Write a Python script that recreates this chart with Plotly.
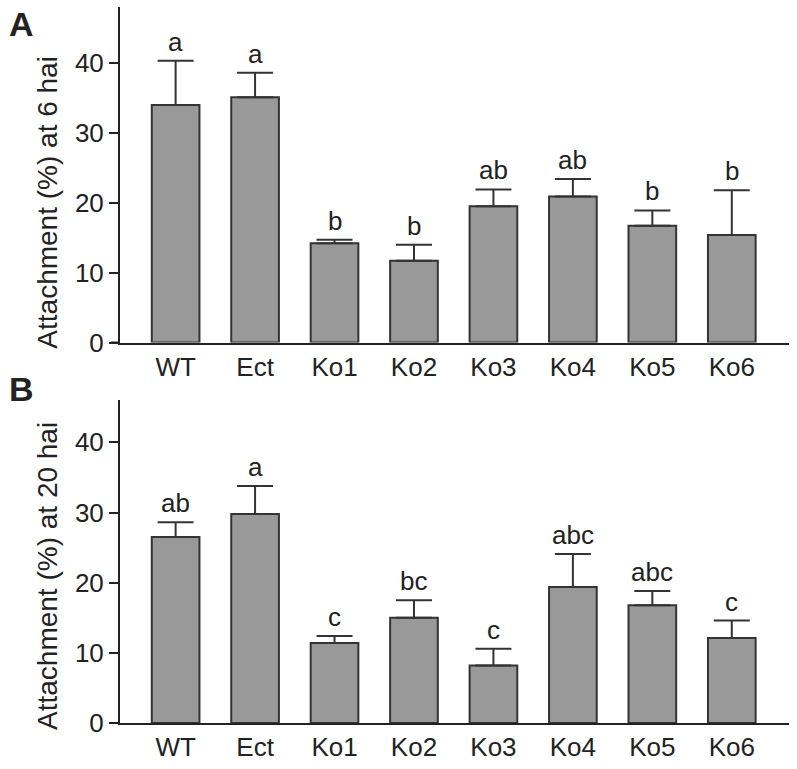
import plotly.graph_objects as go

categories = ["WT", "Ect", "Ko1", "Ko2", "Ko3", "Ko4", "Ko5", "Ko6"]

# Panel A: attachment at 6 hai
mean_6 = [34.0, 35.1, 14.2, 11.7, 19.5, 20.9, 16.7, 15.4]
err_6 = [6.3, 3.5, 0.5, 2.3, 2.4, 2.5, 2.2, 6.4]
letters_6 = ["a", "a", "b", "b", "ab", "ab", "b", "b"]

# Panel B: attachment at 20 hai
mean_20 = [26.5, 29.8, 11.4, 15.0, 8.2, 19.4, 16.8, 12.1]
err_20 = [2.1, 4.0, 1.0, 2.5, 2.4, 4.7, 2.0, 2.5]
letters_20 = ["ab", "a", "c", "bc", "c", "abc", "abc", "c"]

y_ticks = [0, 10, 20, 30, 40]

FONT = "Liberation Sans, Arial, sans-serif"
INK = "#222222"
FILL = "#999999"
EDGE = "#333333"
TICK_SIZE = 26

fig = go.Figure()

panels = [
    (mean_6, err_6, letters_6, "x", "y"),
    (mean_20, err_20, letters_20, "x2", "y2"),
]

for means, errs, letters, xa, ya in panels:
    fig.add_trace(go.Bar(
        x=categories, y=means, xaxis=xa, yaxis=ya,
        marker=dict(color=FILL, line=dict(color=EDGE, width=2)),
        width=0.6,
        error_y=dict(type="data", symmetric=False, array=errs,
                     arrayminus=[0] * len(errs), color=EDGE,
                     thickness=2, width=18),
        showlegend=False, hoverinfo="skip",
    ))
    for c, m, e, lt in zip(categories, means, errs, letters):
        fig.add_annotation(x=c, y=m + e, xref=xa, yref=ya, text=lt,
                           showarrow=False, yanchor="bottom", yshift=2,
                           font=dict(family=FONT, size=26, color=INK))

axis_common = dict(showline=True, linecolor=INK, linewidth=2,
                   showgrid=False, zeroline=False, mirror=False)

fig.update_layout(
    width=797, height=769,
    margin=dict(l=120, r=8, t=7, b=39),
    plot_bgcolor="white", paper_bgcolor="white",
    font=dict(family=FONT, size=TICK_SIZE, color=INK),
    xaxis=dict(**axis_common, domain=[0, 1], anchor="y",
               range=[-0.7, 7.72], ticks="", tickfont=dict(size=TICK_SIZE)),
    yaxis=dict(**axis_common, domain=[0.5313, 1], anchor="x",
               range=[0, 48], tickvals=y_ticks, ticks="outside",
               ticklen=9, tickwidth=2, tickcolor=INK,
               tickfont=dict(size=TICK_SIZE)),
    xaxis2=dict(**axis_common, domain=[0, 1], anchor="y2",
                range=[-0.7, 7.72], ticks="", tickfont=dict(size=TICK_SIZE)),
    yaxis2=dict(**axis_common, domain=[0, 0.4507], anchor="x2",
                range=[0, 46], tickvals=y_ticks, ticks="outside",
                ticklen=9, tickwidth=2, tickcolor=INK,
                tickfont=dict(size=TICK_SIZE)),
)

# x-axis line extension to the left (under the tick at 0)
for ya in ["y", "y2"]:
    fig.add_shape(type="line", xref="paper", yref=ya, x0=-0.0135, x1=0,
                  y0=0, y1=0, line=dict(color=INK, width=2))

# y-axis titles
fig.add_annotation(x=-0.1084, y=0.7274, xref="paper", yref="paper",
                   text="Attachment (%) at 6 hai", textangle=-90,
                   showarrow=False, xanchor="center", yanchor="middle",
                   font=dict(family=FONT, size=28, color=INK))
fig.add_annotation(x=-0.1084, y=0.206, xref="paper", yref="paper",
                   text="Attachment (%) at 20 hai", textangle=-90,
                   showarrow=False, xanchor="center", yanchor="middle",
                   font=dict(family=FONT, size=28, color=INK))

# panel letters
fig.add_annotation(x=-0.147, y=1.0, xref="paper", yref="paper", text="<b>A</b>",
                   showarrow=False, xanchor="center", yanchor="middle",
                   yshift=-17, font=dict(family=FONT, size=34, color=INK))
fig.add_annotation(x=-0.147, y=0.4507, xref="paper", yref="paper", text="<b>B</b>",
                   showarrow=False, xanchor="center", yanchor="middle",
                   yshift=11, font=dict(family=FONT, size=34, color=INK))

fig.write_html("out.html",
               config={"displayModeBar": False},
               post_script="document.body.style.margin='0';")
